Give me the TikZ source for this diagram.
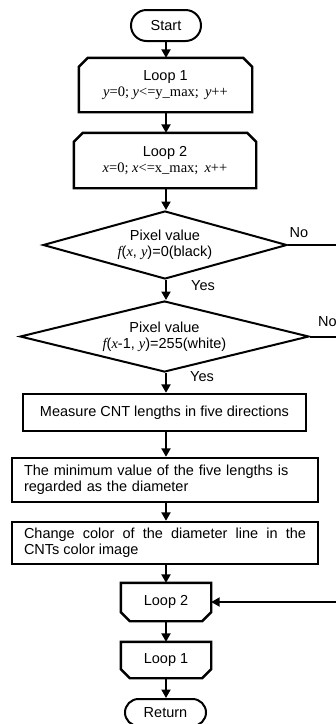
\documentclass[tikz,border=0pt]{standalone}
\usepackage{fontspec}
\setmainfont{Liberation Sans}
\newfontfamily\tms{Liberation Serif}
\usetikzlibrary{shapes.geometric,shapes.misc,arrows.meta}
\newcommand{\vit}[1]{{\tms\itshape #1}}
\begin{document}
\begin{tikzpicture}[x=1pt,y=-1pt,
  every node/.style={font=\fontsize{14.5}{16.3}\selectfont, inner sep=0pt},
  term/.style={draw, line width=2pt, rounded rectangle, minimum height=#1, minimum width=70pt},
  term/.default=31pt,
  loopbox/.style={draw=none, rectangle, align=center},
  boxline/.style={line width=2.4pt, line join=miter},
  procbox/.style={draw, line width=2.4pt, rectangle},
  decision/.style={draw, line width=2pt, diamond, align=center},
  conn/.style={line width=2pt},
  arr/.style={line width=2pt, -{Triangle[width=9pt,length=8.5pt]}},
  lbl/.style={inner sep=0pt}
]
\useasboundingbox (0,0) rectangle (336,724);
\clip (0,0) rectangle (336,724);

% terminals
\node[term] (st) at (166,25.5) {Start};

% loop 1 start
\node[loopbox, minimum width=173pt, minimum height=54pt] (l1) at (165.5,85)
  {Loop 1\\[-1pt]{\tms\textit{y}=0; \textit{y}<=y\_max;\, \textit{y}++}};
\draw[boxline] ([xshift=9pt]l1.north west) -- ([xshift=-9pt]l1.north east)
  -- ([yshift=-9pt]l1.north east) -- (l1.south east) -- (l1.south west)
  -- ([yshift=-9pt]l1.north west) -- cycle;

% loop 2 start
\node[loopbox, minimum width=182pt, minimum height=55pt] (l2) at (165,160.5)
  {Loop 2\\[-1pt]{\tms\textit{x}=0; \textit{x}<=x\_max;\, \textit{x}++}};
\draw[boxline] ([xshift=9pt]l2.north west) -- ([xshift=-9pt]l2.north east)
  -- ([yshift=-9pt]l2.north east) -- (l2.south east) -- (l2.south west)
  -- ([yshift=-9pt]l2.north west) -- cycle;

% decisions
\node[decision, minimum width=244pt, minimum height=68pt, shape aspect=3.6] (d1) at (165,245)
  {Pixel value\\\vit{f}(\vit{x}, \vit{y})=0(black)};
\node[decision, minimum width=289pt, minimum height=71pt, shape aspect=4.07] (d2) at (164.5,336.5)
  {Pixel value\\\vit{f}(\vit{x}-1, \vit{y})=255(white)};

% process boxes
\node[procbox, minimum width=283pt, minimum height=37pt] (ms) at (164.5,412.5)
  {Measure CNT lengths in five directions};
\node[procbox, minimum height=44pt, text width=282pt, inner xsep=12pt, align=left] (mn) at (165,480)
  {The minimum value of the five lengths is\\regarded as the diameter};
\node[procbox, minimum height=42pt, text width=282pt, inner xsep=12pt, align=justify] (ch) at (165,543)
  {Change color of the diameter line in the\linebreak CNTs color image};

% loop ends
\node[loopbox, minimum width=90pt, minimum height=38pt] (e2) at (166,602) {Loop 2};
\draw[boxline] (e2.north west) -- (e2.north east) -- ([yshift=9pt]e2.south east)
  -- ([xshift=-9pt]e2.south east) -- ([xshift=9pt]e2.south west)
  -- ([yshift=9pt]e2.south west) -- cycle;
\node[loopbox, minimum width=90pt, minimum height=36pt] (e1) at (166,660) {Loop 1};
\draw[boxline] (e1.north west) -- (e1.north east) -- ([yshift=9pt]e1.south east)
  -- ([xshift=-9pt]e1.south east) -- ([xshift=9pt]e1.south west)
  -- ([yshift=9pt]e1.south west) -- cycle;

\node[term=27pt, minimum width=81pt] (rt) at (165.5,712.5) {Return};

% labels
\node[lbl] (y1) at (203,286) {Yes};
\node[lbl] (y2) at (202,377) {Yes};
\node[lbl] (n1) at (299,233) {No};
\node[lbl, anchor=west] (n2) at (318,322) {No};

% edge coordinates
\coordinate (r1) at (336,245);
\coordinate (r2) at (336,337);
\coordinate (r3) at (336,602);

% connectors
\draw[arr] (st.south) -- (st.south |- l1.north);
\draw[arr] (l1.south -| st.south) -- (st.south |- l2.north);
\draw[arr] (l2.south -| st.south) -- (st.south |- d1.north);
\draw[arr] (d1.south -| st.south) -- (st.south |- d2.north);
\draw[arr] (d2.south -| st.south) -- (st.south |- ms.north);
\draw[arr] (ms.south -| st.south) -- (st.south |- mn.north);
\draw[arr] (mn.south -| st.south) -- (st.south |- ch.north);
\draw[arr] (ch.south -| st.south) -- (st.south |- e2.north);
\draw[arr] (e2.south -| st.south) -- (st.south |- e1.north);
\draw[arr] (e1.south -| st.south) -- (st.south |- rt.north);
\draw[conn] (d1.east) -- (d1.east -| r1);
\draw[conn] (d2.east) -- (d2.east -| r2);
\draw[arr] (r3) -- (r3 -| e2.east);
\end{tikzpicture}
\end{document}
